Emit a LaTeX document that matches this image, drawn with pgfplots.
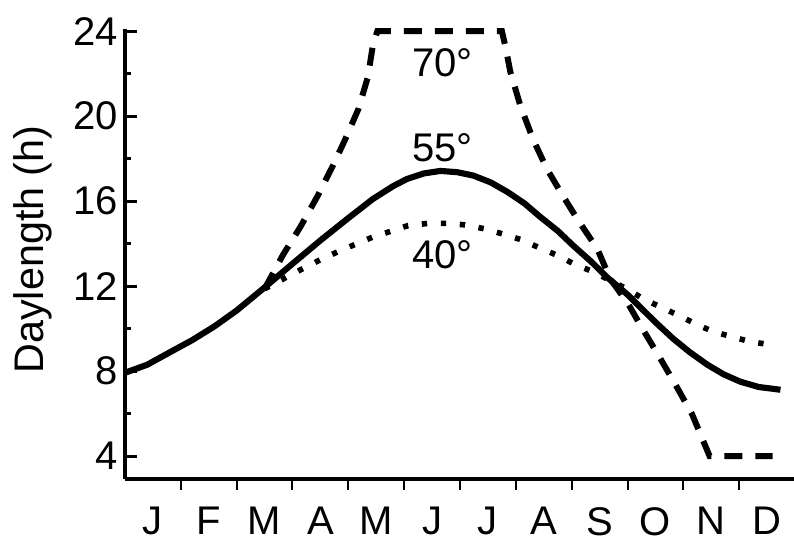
\documentclass[border=0pt]{standalone}
\usepackage{pgfplots}
\pgfplotsset{compat=1.18}
\usepackage{fontspec}
\setmainfont{Liberation Sans}
\begin{document}
\begin{tikzpicture}
\begin{axis}[
  name=ax,
  scale only axis,
  width=502.5pt, height=337.5pt,
  xmin=0, xmax=12,
  ymin=2.92, ymax=24.1,
  clip=false,
  axis x line*=bottom,
  axis y line*=left,
  axis line style={line width=2.5pt},
  /pgf/number format/assume math mode=true,
  tick align=inside,
  major tick length=9pt,
  minor tick length=4.5pt,
  ytick={4,8,12,16,20,24},
  minor y tick num=1,
  y tick style={line width=2.2pt, black},
  xtick={0.5,1.5,...,11.5},
  xticklabels={J,F,M,A,M,J,J,A,S,O,N,D},
  x tick style={draw=none},
  extra x ticks={1,2,...,11},
  extra x tick labels={},
  extra x tick style={tick align=outside, major tick length=8.25pt, x tick style={draw=black, line width=1.5pt}},
  tick label style={font=\fontsize{30pt}{36pt}\selectfont},
  yticklabel style={inner sep=0pt, xshift=-5.25pt},
  xticklabel style={inner sep=0pt, anchor=north, yshift=-21pt},
  ylabel={Daylength (h)},
  ylabel style={font=\fontsize{31pt}{37pt}\selectfont, at={(axis description cs:-0.1672,0.51)}, anchor=north, inner sep=0pt},
]
% 55 degrees (solid)
\addplot[black, line width=4.6pt, line join=round] coordinates {
(0.00,7.92) (0.40,8.30) (0.80,8.88) (1.20,9.45) (1.60,10.10) (2.00,10.85)
(2.47,11.87) (3.00,13.05) (3.50,14.15) (4.00,15.20) (4.44,16.10) (4.80,16.70)
(5.05,17.04) (5.35,17.30) (5.65,17.42) (5.95,17.36) (6.24,17.20) (6.55,16.88)
(6.85,16.43) (7.15,15.90) (7.44,15.25) (7.75,14.60) (8.03,13.90) (8.35,13.15)
(8.64,12.40) (9.00,11.60) (9.23,11.00) (9.52,10.25) (9.82,9.52) (10.12,8.88)
(10.43,8.30) (10.72,7.85) (11.02,7.50) (11.35,7.25) (11.74,7.12)
};
% 40 degrees (dotted)
\addplot[black, line width=4.2pt, dash pattern=on 4pt off 10.25pt] coordinates {
(2.50,11.87) (2.90,12.43) (3.17,12.80) (3.49,13.23) (3.80,13.60) (4.12,13.96)
(4.44,14.31) (4.75,14.57) (5.07,14.85) (5.43,14.95) (5.77,14.95) (6.09,14.88)
(6.45,14.69) (6.77,14.45) (7.11,14.17) (7.44,13.78) (7.74,13.45) (8.05,13.03)
(8.36,12.70) (8.70,12.25) (9.00,11.85) (9.28,11.40) (9.59,11.02) (9.89,10.65)
(10.22,10.22) (10.54,9.85) (10.88,9.61) (11.20,9.38) (11.56,9.24)
};
% 70 degrees (dashed)
\addplot[black, line width=4.5pt, dash pattern=on 13.5pt off 9.75pt] coordinates {
(2.50,11.87) (2.83,13.47) (3.14,14.78) (3.46,16.29) (3.73,17.70) (3.94,18.88)
(4.18,20.33) (4.35,21.84) (4.44,23.34) (4.52,24.00) (6.75,24.00) (6.82,23.20)
(6.90,22.10) (7.08,20.50) (7.31,18.90) (7.56,17.50) (7.83,16.30) (8.10,15.16)
(8.46,13.75) (8.69,12.34) (9.01,11.17) (9.28,9.94) (9.59,8.58) (9.86,7.36)
(10.16,5.95) (10.47,4.00) (11.60,4.00)
};
\node[anchor=base, font=\fontsize{30pt}{36pt}\selectfont, inner sep=0pt] at (axis cs:5.69,21.85) {70°};
\node[anchor=base, font=\fontsize{30pt}{36pt}\selectfont, inner sep=0pt] at (axis cs:5.69,17.86) {55°};
\node[anchor=base, font=\fontsize{30pt}{36pt}\selectfont, inner sep=0pt] at (axis cs:5.69,12.85) {40°};
\end{axis}
\pgfresetboundingbox
\path[use as bounding box] ([xshift=-93.75pt,yshift=-47.25pt]ax.south west) rectangle ([xshift=501.75pt,yshift=359.25pt]ax.south west);
\end{tikzpicture}
\end{document}
